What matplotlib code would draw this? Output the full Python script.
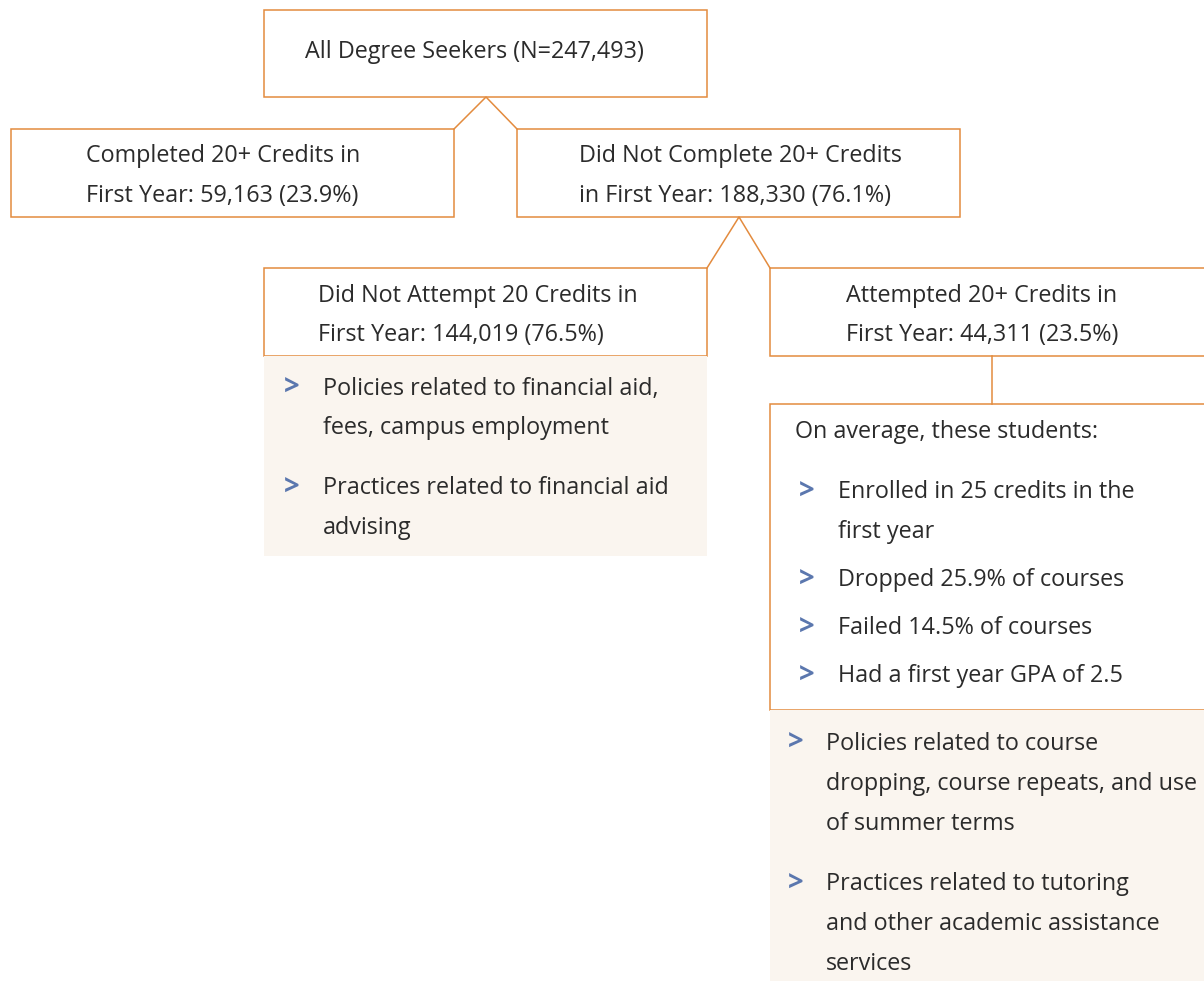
import matplotlib.pyplot as plt
from matplotlib.patches import Rectangle

# texts of the tree
top_label = "All Degree Seekers (N=247,493)"
completed_label = ["Completed 20+ Credits in", "First Year: 59,163 (23.9%)"]
not_completed_label = ["Did Not Complete 20+ Credits", "in First Year: 188,330 (76.1%)"]
not_attempt_label = ["Did Not Attempt 20 Credits in", "First Year: 144,019 (76.5%)"]
attempted_label = ["Attempted 20+ Credits in", "First Year: 44,311 (23.5%)"]
average_intro = "On average, these students:"
average_points = [["Enrolled in 25 credits in the", "first year"],
                  ["Dropped 25.9% of courses"],
                  ["Failed 14.5% of courses"],
                  ["Had a first year GPA of 2.5"]]
left_points = [["Policies related to financial aid,", "fees, campus employment"],
               ["Practices related to financial aid", "advising"]]
right_points = [["Policies related to course", "dropping, course repeats, and use", "of summer terms"],
                ["Practices related to tutoring", "and other academic assistance", "services"]]

orange = "#E38B3E"
blue = "#5B77AE"
beige = "#FAF5EF"
txt = "#2B2B2B"
fs = 16.8
font = "Open Sans"
dy = 2.5  # small downward nudge so text centres match

fig = plt.figure(figsize=(12.04, 9.81), dpi=100)
ax = fig.add_axes([0, 0, 1, 1])
ax.set_xlim(0, 1204)
ax.set_ylim(981, 0)
ax.axis("off")


def box(x0, y0, x1, y1, edge=orange, face="white"):
    ax.add_patch(Rectangle((x0, y0), x1 - x0, y1 - y0, facecolor=face,
                           edgecolor=edge if edge else "none", lw=1.1))


def lines(x, y, rows, step=39.5):
    for i, r in enumerate(rows):
        ax.text(x, y + i * step + dy, r, fontsize=fs, family=font, color=txt,
                va="center", ha="left")


def arrow(x, y):
    ax.text(x, y + dy, ">", fontsize=fs + 3, family=font, color=blue,
            fontweight="bold", va="center", ha="left")


def bullets(xb, xt, y0, items, step=39.5, gap=21):
    y = y0
    for item in items:
        arrow(xb, y)
        lines(xt, y, item, step)
        y += len(item) * step + gap
    return y


# boxes
box(264, 10, 707, 97)
box(11, 129, 454, 217)
box(517, 129, 960, 217)
box(264, 268, 707, 356)
box(770, 268, 1215, 356)
box(770, 404, 1215, 710)
box(264, 356, 707, 556, edge=None, face=beige)
box(770, 710, 1215, 990, edge=None, face=beige)

# connectors
ax.plot([454, 486, 517], [129, 97, 129], color=orange, lw=1.1)
ax.plot([707, 739, 770], [268, 217, 268], color=orange, lw=1.1)
ax.plot([992, 992], [356, 404], color=orange, lw=1.1)

lines(305, 50, [top_label])
lines(86, 154, completed_label)
lines(579, 154, not_completed_label)
lines(318, 293, not_attempt_label)
lines(846, 293, attempted_label)
lines(795, 429, [average_intro])

y = 490
for item in average_points:
    arrow(799, y)
    lines(838, y, item, 40)
    y += len(item) * 40 + 8

bullets(284, 323, 386, left_points)
bullets(788, 826, 741, right_points, step=40)

fig.savefig("out.png", dpi=100)
